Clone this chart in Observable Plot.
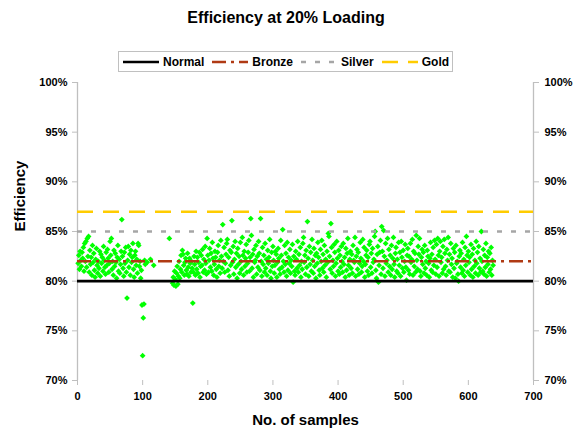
<!DOCTYPE html>
<html>
<head>
<meta charset="utf-8">
<script src="https://cdn.jsdelivr.net/npm/d3@7"></script>
<script src="https://cdn.jsdelivr.net/npm/@observablehq/plot@0.6"></script>
<style>
  html, body { margin: 0; padding: 0; background: #fff; }
  #wrap { position: relative; width: 579px; height: 437px; font-family: "Liberation Sans", Arial, sans-serif; font-weight: bold; color: #000; }
  #head { position: relative; width: 579px; height: 75px; }
  #title { position: absolute; left: 0; top: 8px; width: 572px; text-align: center; font-size: 16px; line-height: 20px; }
  #legend { position: absolute; left: 118px; top: 51px; width: 333px; height: 19px; border: 1px solid #c0c0c0; display: flex; align-items: center; font-size: 12px; }
  .item { display: flex; align-items: center; margin-left: 4px; margin-right: 4px; }
  .item svg { margin-right: 4px; }
</style>
</head>
<body>
<div id="wrap">
  <div id="head">
    <div id="title"></div>
    <div id="legend"></div>
  </div>
  <div id="chart"></div>
</div>
<script>
// ---- data ----
const chartTitle = "Efficiency at 20% Loading";
const xLabel = "No. of samples";
const yLabel = "Efficiency";
const xTicks = [0, 100, 200, 300, 400, 500, 600, 700];
const yTicks = [70, 75, 80, 85, 90, 95, 100];

const standardNames = ["Normal", "Bronze", "Silver", "Gold"];
const standardValues = [80, 82, 85, 87];

// first run of samples, starting at sample 1
const run1Start = 1;
const run1 = [
  81.8, 82.6, 81.2, 83.0, 82.1, 81.5, 82.9, 82.3, 83.4, 81.0, 83.8, 82.0, 84.0, 81.4, 84.3, 82.5, 84.5, 80.9, 83.1, 81.7,
  82.4, 80.6, 83.6, 81.9, 82.8, 81.1, 80.4, 82.2, 83.3, 81.6, 80.8, 82.0, 81.3, 83.0, 80.5, 82.7, 81.8, 82.4, 81.0, 83.5,
  82.1, 81.4, 80.7, 82.9, 81.6, 83.2, 82.3, 80.9, 81.8, 84.0, 82.6, 84.3, 81.2, 82.0, 80.6, 83.1, 81.5, 82.8, 81.9, 80.3,
  82.4, 83.6, 81.0, 82.2, 80.8, 81.7, 83.0, 86.2, 82.5, 81.3, 80.5, 82.9, 81.8, 83.4, 80.9, 78.3, 82.1, 83.5, 81.4, 82.7,
  80.6, 83.1, 81.9, 82.4, 83.8, 81.2, 80.4, 82.6, 83.0, 81.6, 82.2, 80.8, 83.8, 83.6, 81.5, 82.0, 80.3, 81.1, 77.6, 72.5,
  76.3, 77.7, 82.1, 81.7
];

// isolated samples in the sparse stretch
const sparseSamples = [107, 112, 117, 141];
const sparseEff = [81.9, 82.2, 81.6, 84.3];

// second run of samples, starting at sample 146
const run2Start = 146;
const run2 = [
  79.8, 80.4, 79.6, 81.0, 80.2, 79.5, 80.8, 81.5, 79.7, 80.5, 82.0, 80.3, 81.2, 82.6, 80.9, 83.1, 82.7, 81.6, 80.6, 81.9,
  82.3, 81.1, 80.7, 82.8, 81.4, 80.5, 82.3, 81.8, 80.9, 82.0, 81.3, 77.8, 80.9, 82.5, 81.7, 80.6, 83.0, 81.2, 82.4, 80.8,
  81.9, 82.9, 80.4, 81.5, 82.6, 81.6, 83.2, 80.9, 82.2, 81.1, 83.5, 81.8, 80.7, 84.3, 82.6, 80.9, 82.1, 83.3, 81.4, 82.8,
  81.0, 83.9, 82.3, 80.6, 81.7, 83.0, 82.4, 81.2, 80.4, 82.9, 83.6, 81.5, 82.1, 80.8, 84.1, 82.5, 81.3, 85.7, 82.0, 83.4,
  80.9, 81.8, 82.7, 83.8, 84.2, 81.1, 82.4, 80.5, 83.1, 81.6, 82.9, 86.1, 81.9, 83.5, 80.7, 82.2, 84.0, 81.4, 82.8, 80.3,
  83.3, 81.7, 82.5, 80.8, 83.9, 82.0, 81.2, 84.4, 82.6, 80.6, 83.0, 81.5, 82.3, 83.7, 80.9, 81.8, 82.9, 84.1, 81.0, 82.4,
  86.3, 84.6, 81.3, 82.7, 80.4, 83.2, 81.9, 82.1, 83.6, 80.7, 82.5, 81.4, 84.0, 82.8, 81.1, 86.3, 82.0, 80.5, 83.4, 81.7,
  82.6, 80.9, 83.8, 81.3, 82.2, 80.6, 83.1, 81.8, 82.4, 84.2, 81.0, 80.3, 82.9, 81.5, 83.5, 82.1, 80.8, 81.6, 83.0, 82.7,
  80.4, 81.9, 83.3, 82.3, 81.2, 80.7, 84.1, 82.6, 81.4, 85.2, 82.0, 80.9, 83.6, 81.7, 82.8, 80.5, 83.9, 81.1, 82.4, 81.8,
  83.2, 80.8, 82.1, 81.5, 83.7, 79.9, 82.5, 81.0, 80.6, 83.0, 82.2, 81.3, 84.0, 80.9, 82.7, 81.6, 83.4, 80.4, 82.0, 81.2,
  83.8, 84.4, 81.9, 82.6, 80.7, 83.1, 81.4, 86.0, 82.3, 80.5, 83.5, 81.7, 82.9, 81.0, 84.2, 82.1, 80.8, 83.3, 81.5, 82.6,
  80.3, 82.8, 81.8, 83.9, 82.4, 81.1, 80.6, 83.2, 82.0, 84.1, 81.3, 82.7, 80.9, 83.6, 81.6, 82.2, 80.4, 83.0, 81.9, 84.8,
  84.5, 82.5, 81.2, 85.8, 83.4, 80.8, 82.1, 81.5, 83.7, 82.9, 80.5, 81.8, 84.0, 82.3, 81.0, 83.1, 80.7, 82.6, 81.4, 83.5,
  82.0, 80.9, 83.8, 81.7, 82.4, 80.4, 83.3, 81.1, 82.8, 84.3, 81.6, 80.6, 82.2, 83.0, 81.3, 82.7, 80.8, 83.6, 82.1, 81.9,
  84.4, 80.5, 82.5, 83.2, 81.2, 82.9, 80.7, 81.8, 83.9, 82.3, 80.9, 81.5, 84.2, 82.0, 83.4, 80.4, 81.7, 82.6, 83.1, 81.0,
  82.4, 80.6, 83.7, 84.0, 81.4, 82.8, 80.8, 83.3, 81.9, 82.2, 84.5, 85.0, 81.1, 80.3, 82.7, 83.5, 79.9, 81.6, 82.9, 84.1,
  80.7, 85.5, 83.0, 81.3, 85.1, 82.5, 80.5, 83.8, 81.8, 82.1, 84.3, 80.9, 83.2, 81.5, 82.6, 80.6, 83.6, 81.2, 82.3, 84.4,
  81.7, 80.4, 82.8, 83.4, 81.0, 82.2, 80.8, 83.9, 81.6, 82.9, 80.5, 84.0, 82.4, 81.3, 83.1, 80.9, 82.0, 83.7, 81.4, 80.1,
  82.6, 83.3, 81.1, 82.5, 80.7, 83.8, 81.9, 82.2, 84.2, 80.6, 83.0, 81.5, 82.8, 80.9, 84.6, 82.1, 81.2, 83.5, 82.7, 84.3,
  81.0, 80.5, 82.4, 83.2, 81.7, 82.9, 80.8, 83.6, 81.3, 82.0, 80.6, 83.1, 82.5, 81.8, 80.4, 82.3, 83.9, 81.1, 82.7, 80.9,
  83.4, 81.6, 84.1, 82.2, 80.7, 83.7, 81.4, 84.3, 82.6, 80.5, 83.0, 84.0, 81.9, 82.4, 80.8, 83.5, 81.2, 84.2, 82.8, 81.5,
  80.6, 83.2, 82.1, 84.4, 81.0, 82.7, 80.9, 83.8, 81.7, 82.3, 80.4, 83.3, 81.3, 82.9, 80.3, 83.6, 81.8, 82.0, 80.7, 80.0,
  82.5, 83.1, 81.4, 82.8, 80.8, 83.9, 81.1, 82.2, 80.5, 83.4, 81.6, 84.5, 82.6, 80.9, 83.0, 81.9, 82.4, 80.6, 83.7, 81.2,
  82.7, 80.4, 83.3, 81.5, 82.1, 80.8, 84.0, 81.8, 82.9, 80.6, 83.5, 81.3, 82.3, 80.9, 85.0, 82.0, 81.0, 83.2, 80.7, 82.6,
  81.4, 83.8, 80.5, 82.4, 81.7, 83.0, 80.9, 82.8, 81.2, 83.4, 80.6, 82.1, 81.6
];

// ---- styles (kept separate from data) ----
const lineStyles = {
  Normal: { stroke: "#000000", dash: null, width: 2.6 },
  Bronze: { stroke: "#B03A14", dash: "14,5,3,5", width: 2.5 },
  Silver: { stroke: "#A6A6A6", dash: "5,9", width: 2.5 },
  Gold:   { stroke: "#FFCC00", dash: "16,10", width: 2.5 }
};
const FONT = '"Liberation Sans", Arial, Helvetica, sans-serif';

// ---- build table ----
const points = [];
run1.forEach((v, i) => points.push({ sample: run1Start + i, eff: v }));
sparseSamples.forEach((s, i) => points.push({ sample: s, eff: sparseEff[i] }));
run2.forEach((v, i) => points.push({ sample: run2Start + i, eff: v }));

const standards = standardNames.map((n, i) => ({ name: n, value: standardValues[i] }));

// ---- header ----
document.getElementById("title").textContent = chartTitle;
const legend = document.getElementById("legend");
standards.forEach(s => {
  const st = lineStyles[s.name];
  const item = document.createElement("div");
  item.className = "item";
  const ns = "http://www.w3.org/2000/svg";
  const sw = document.createElementNS(ns, "svg");
  sw.setAttribute("width", 36); sw.setAttribute("height", 6);
  const ln = document.createElementNS(ns, "line");
  ln.setAttribute("x1", 0); ln.setAttribute("x2", 36);
  ln.setAttribute("y1", 3); ln.setAttribute("y2", 3);
  ln.setAttribute("stroke", st.stroke);
  ln.setAttribute("stroke-width", st.width);
  if (st.dash) ln.setAttribute("stroke-dasharray", st.dash);
  sw.appendChild(ln);
  const t = document.createElement("span");
  t.textContent = s.name;
  item.appendChild(sw); item.appendChild(t);
  legend.appendChild(item);
});

// ---- plot ----
const fmtPct = d => d + "%";
const chart = Plot.plot({
  width: 579,
  height: 362,
  marginLeft: 77,
  marginRight: 46,
  marginTop: 7,
  marginBottom: 57,
  style: { fontFamily: FONT, fontSize: "11px", fontWeight: "bold", color: "#000", background: "#fff", overflow: "visible" },
  x: { domain: [0, 700] },
  y: { domain: [70, 100] },
  marks: [
    Plot.ruleX([0, 700], { stroke: "#BFBFBF", strokeWidth: 1.3 }),
    Plot.axisX(xTicks, { tickSize: 5, tickPadding: 7, stroke: "#BFBFBF", fill: "#000", label: null, fontSize: 11 }),
    Plot.axisY(yTicks, { anchor: "left", tickSize: 5, tickPadding: 5, stroke: "#BFBFBF", fill: "#000", tickFormat: fmtPct, label: null, fontSize: 11 }),
    Plot.axisY(yTicks, { anchor: "right", tickSize: 5, tickPadding: 6, stroke: "#BFBFBF", fill: "#000", tickFormat: fmtPct, label: null, fontSize: 11 }),
    Plot.dot(points, { x: "sample", y: "eff", symbol: "diamond2", r: 2.6, fill: "#00FF00", stroke: "none" }),
    ...standards.map(s => Plot.ruleY([s.value], {
      stroke: lineStyles[s.name].stroke,
      strokeWidth: lineStyles[s.name].width,
      strokeDasharray: lineStyles[s.name].dash || undefined
    })),
    Plot.text([xLabel], { frameAnchor: "bottom", dy: 44, fontSize: 15, fontWeight: "bold", fill: "#000" }),
    Plot.text([yLabel], { frameAnchor: "left", dx: -57, rotate: -90, fontSize: 15, fontWeight: "bold", fill: "#000" })
  ]
});
document.getElementById("chart").appendChild(chart);
</script>
</body>
</html>
